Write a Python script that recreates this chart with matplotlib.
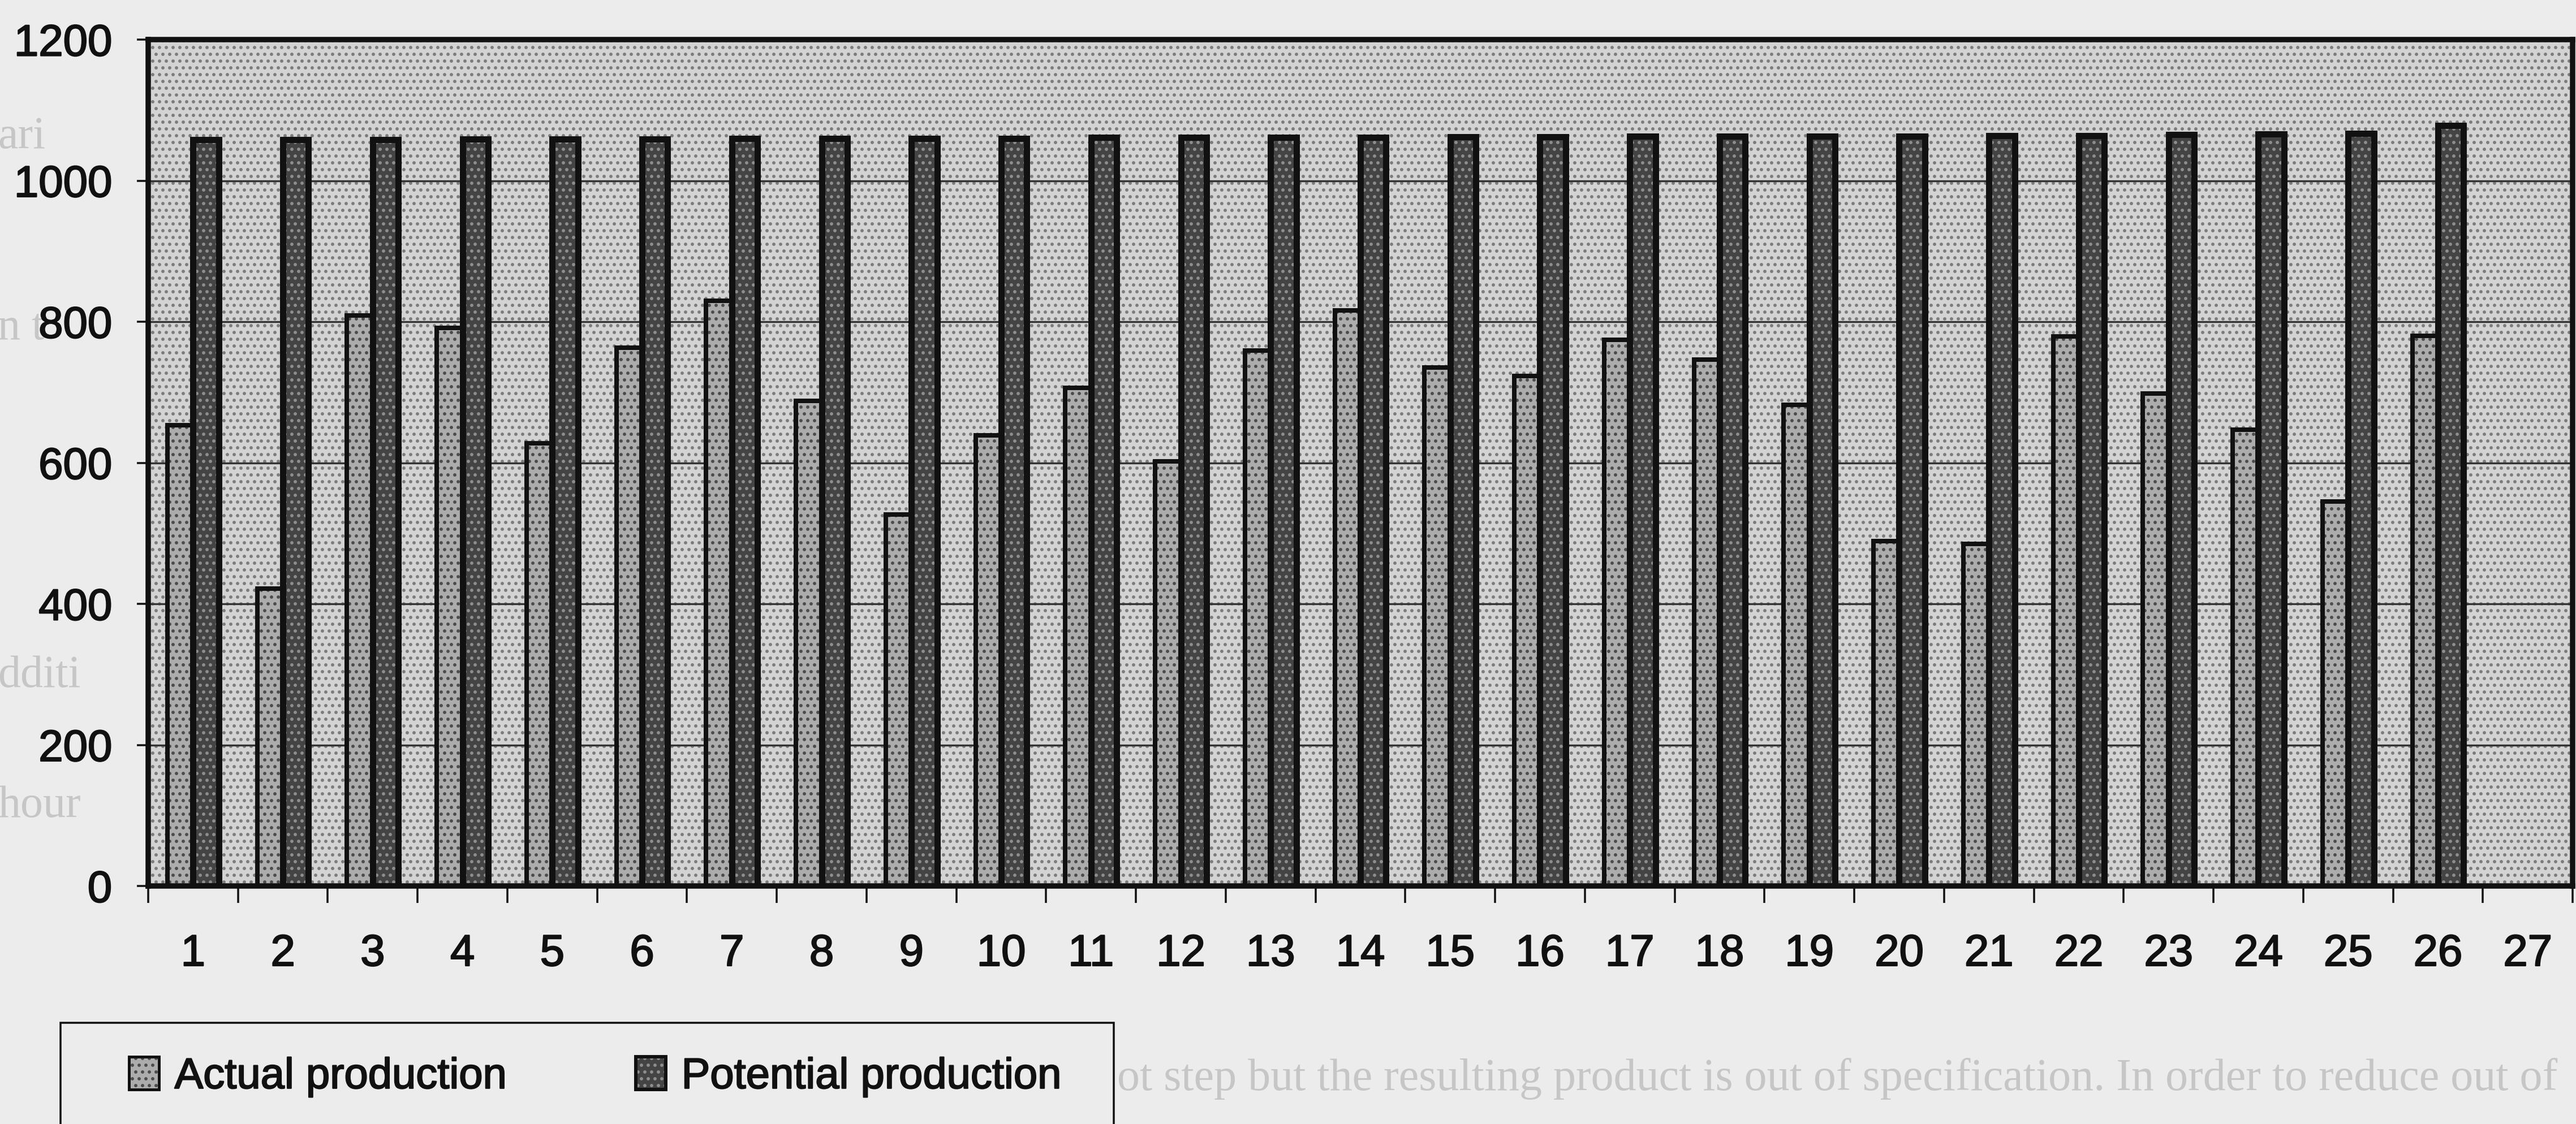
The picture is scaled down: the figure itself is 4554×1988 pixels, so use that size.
import matplotlib
matplotlib.use("Agg")
import matplotlib.pyplot as plt
import matplotlib.patheffects as pe
from matplotlib.patches import Patch, Rectangle
from matplotlib.legend_handler import HandlerTuple
import numpy as np

# ---- data -------------------------------------------------------------
days = list(range(1, 28))
actual_production = [653, 422, 809, 791, 628, 763, 830, 688, 527, 639, 706, 602, 759,
                     816, 735, 723, 774, 746, 682, 489, 485, 779, 698, 647, 545, 780]
potential_production = [1058, 1058, 1058, 1059, 1059, 1059, 1060, 1060, 1060, 1060, 1061,
                        1061, 1061, 1061, 1062, 1062, 1063, 1063, 1063, 1063, 1064, 1064,
                        1065, 1066, 1067, 1078]
y_ticks = [0, 200, 400, 600, 800, 1000, 1200]
series_names = ["Actual production", "Potential production"]

# ---- page set-up --------------------------------------------------------
W, H, DPI = 4554, 1988, 72
PAPER = "#ececec"
INK = "#111111"

plt.rcParams["font.family"] = ["Liberation Sans", "DejaVu Sans"]
plt.rcParams["hatch.linewidth"] = 3.4

fig = plt.figure(figsize=(W / DPI, H / DPI), dpi=DPI, facecolor=PAPER)

# faint print from the following page showing through the paper
ghost = dict(color="#c6c6c6", family=["Liberation Serif", "DejaVu Serif"],
             zorder=-1, transform=fig.transFigure)
fig.text(-4 / W, 1 - 262 / H, "ari", fontsize=80, **ghost)
fig.text(-4 / W, 1 - 600 / H, "n t", fontsize=80, **ghost)
fig.text(-4 / W, 1 - 1215 / H, "dditi", fontsize=80, **ghost)
fig.text(-4 / W, 1 - 1445 / H, "hour", fontsize=80, **ghost)
fig.text(1975 / W, 1 - 1928 / H,
         "ot step but the resulting product is out of specification. In order to reduce out of",
         fontsize=80, **ghost)

# ---- plot area ---------------------------------------------------------
left, right, top, bottom = 262, 4548, 70, 1567
ax = fig.add_axes([left / W, 1 - bottom / H, (right - left) / W, (bottom - top) / H])
ax.patch.set_facecolor("#d3d3d3")
ax.patch.set_edgecolor("#7c7c7c")
ax.patch.set_hatch(".")
ax.patch.set_linewidth(0)

x = np.arange(1, len(actual_production) + 1)
w = 1 / 3.5

ACT_FACE, ACT_DOT = "#acacac", "#4c4c4c"
POT_FACE, POT_DOT = "#444444", "#8e8e8e"

ax.bar(x - w / 2, actual_production, w, color=ACT_FACE, edgecolor=ACT_DOT,
       hatch=".", linewidth=0, zorder=2)
ax.bar(x - w / 2, actual_production, w, fill=False, edgecolor=INK,
       linewidth=8, zorder=3)
ax.bar(x + w / 2, potential_production, w, color=POT_FACE, edgecolor=POT_DOT,
       hatch=".", linewidth=0, zorder=2)
ax.bar(x + w / 2, potential_production, w, fill=False, edgecolor=INK,
       linewidth=11, zorder=4)

ax.set_xlim(0.5, len(days) + 0.5)
ax.set_ylim(y_ticks[0], y_ticks[-1])

ax.set_axisbelow(True)
ax.yaxis.grid(True, color="#333333", linewidth=3.4)
for sp in ax.spines.values():
    sp.set_linewidth(9.5)
    sp.set_color(INK)
    sp.set_zorder(5)

ax.set_yticks(y_ticks)
ax.set_yticklabels([str(v) for v in y_ticks])
ax.tick_params(axis="y", direction="out", length=20, width=3.5, color=INK,
               pad=44, labelsize=78, labelcolor=INK)

# tick marks sit between the day groups, labels at the group centres
ax.set_xticks(np.arange(0.5, len(days) + 1, 1.0))
ax.set_xticklabels([])
ax.set_xticks(days, minor=True)
ax.set_xticklabels([str(d) for d in days], minor=True)
ax.tick_params(axis="x", which="major", direction="out", length=30, width=3.5,
               color=INK)
ax.tick_params(axis="x", which="minor", length=0, pad=84, labelsize=78,
               labelcolor=INK)

heavy = [pe.withStroke(linewidth=2.2, foreground=INK)]
for lab in ax.get_yticklabels() + ax.get_xticklabels(minor=True):
    lab.set_path_effects(heavy)

# ---- legend -------------------------------------------------------------
frame = Rectangle((107 / W, -0.05), (1969 - 107) / W, (H - 1809) / H + 0.05,
                  transform=fig.transFigure, facecolor=PAPER, edgecolor=INK,
                  linewidth=3.5, zorder=4)
fig.add_artist(frame)

handles = [
    (Patch(facecolor=ACT_FACE, edgecolor=ACT_DOT, hatch=".", linewidth=0),
     Patch(fill=False, edgecolor=INK, linewidth=5)),
    (Patch(facecolor=POT_FACE, edgecolor=POT_DOT, hatch=".", linewidth=0),
     Patch(fill=False, edgecolor=INK, linewidth=6)),
]
leg = fig.legend(handles, series_names, handler_map={tuple: HandlerTuple(ndivide=1)},
                 loc="center left", bbox_to_anchor=(228 / W, 1 - 1905 / H),
                 bbox_transform=fig.transFigure, ncol=2, frameon=False,
                 fontsize=76, borderpad=0, borderaxespad=0, handlelength=0.7,
                 handleheight=0.8, handletextpad=0.36, columnspacing=3.0)
leg.set_zorder(6)
for t in leg.get_texts():
    t.set_color(INK)
    t.set_path_effects(heavy)

fig.savefig("out.png", dpi=DPI, facecolor=PAPER)
